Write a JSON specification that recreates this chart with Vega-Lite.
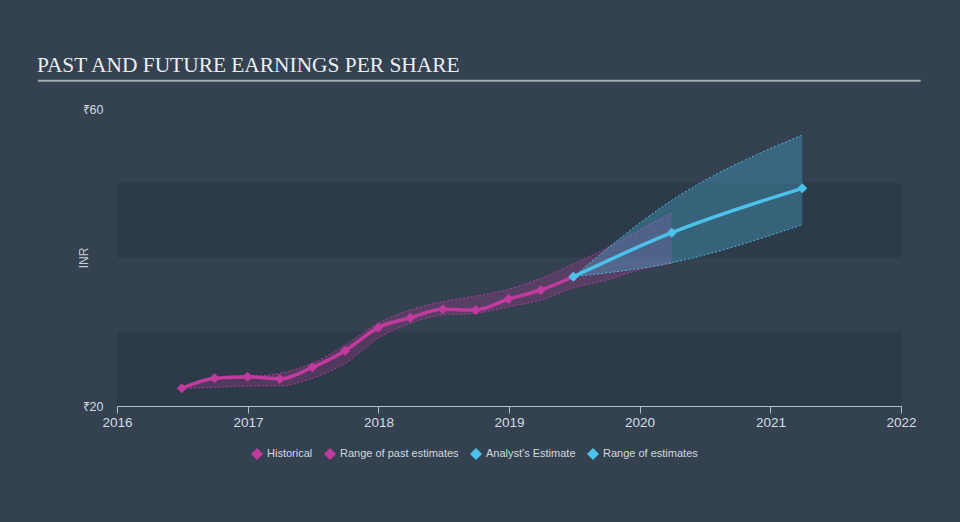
{
  "$schema": "https://vega.github.io/schema/vega-lite/v6.json",
  "width": 784,
  "height": 297,
  "autosize": {"type": "none"},
  "padding": {"left": 117, "top": 109, "right": 59, "bottom": 116},
  "background": "#334151",
  "title": {
    "text": "PAST AND FUTURE EARNINGS PER SHARE",
    "anchor": "start",
    "font": "Liberation Serif",
    "fontSize": 21.4,
    "fontWeight": "normal",
    "color": "#eceef0",
    "offset": 3,
    "dx": 0
  },
  "config": {
    "view": {"stroke": null}
  },
  "datasets": {
    "bands": [{"lo": 20, "hi": 30}, {"lo": 40, "hi": 50}],
    "hist": [
      {"date": "2016-06-30", "eps": 22.38},
      {"date": "2016-09-30", "eps": 23.73},
      {"date": "2016-12-31", "eps": 23.95},
      {"date": "2017-03-31", "eps": 23.64},
      {"date": "2017-06-30", "eps": 25.21},
      {"date": "2017-09-30", "eps": 27.45},
      {"date": "2017-12-31", "eps": 30.55},
      {"date": "2018-03-31", "eps": 31.89},
      {"date": "2018-06-30", "eps": 33.02},
      {"date": "2018-09-30", "eps": 32.93},
      {"date": "2018-12-31", "eps": 34.41},
      {"date": "2019-03-31", "eps": 35.62},
      {"date": "2019-06-30", "eps": 37.41}
    ],
    "past": [
      {"date": "2016-06-30", "low": 22.38, "high": 22.38},
      {"date": "2016-09-30", "low": 22.52, "high": 23.73},
      {"date": "2016-12-31", "low": 22.69, "high": 23.95},
      {"date": "2017-03-31", "low": 22.7, "high": 24.4},
      {"date": "2017-06-30", "low": 23.73, "high": 25.75},
      {"date": "2017-09-30", "low": 25.75, "high": 28.22},
      {"date": "2017-12-31", "low": 29.12, "high": 31.14},
      {"date": "2018-03-31", "low": 31.14, "high": 32.93},
      {"date": "2018-06-30", "low": 32.26, "high": 34.05},
      {"date": "2018-09-30", "low": 32.48, "high": 34.82},
      {"date": "2018-12-31", "low": 33.37, "high": 35.72},
      {"date": "2019-03-31", "low": 34.28, "high": 37.2},
      {"date": "2019-06-30", "low": 35.9, "high": 39.12},
      {"date": "2019-09-30", "low": 36.97, "high": 41.24},
      {"date": "2019-12-31", "low": 38.32, "high": 43.7},
      {"date": "2020-03-31", "low": 39.22, "high": 46.0}
    ],
    "fc": [
      {"date": "2019-06-30", "eps": 37.41},
      {"date": "2020-03-31", "eps": 43.34},
      {"date": "2021-03-31", "eps": 49.32}
    ],
    "fcr": [
      {"date": "2019-06-30", "low": 37.41, "high": 37.41},
      {"date": "2020-03-31", "low": 39.3, "high": 47.7},
      {"date": "2021-03-31", "low": 44.4, "high": 56.5}
    ]
  },
  "layer": [
    {
      "data": {"name": "bands"},
      "mark": {"type": "rect", "color": "#2c3847", "opacity": 0.75},
      "encoding": {
        "y": {
          "field": "lo",
          "type": "quantitative",
          "scale": {"domain": [20, 60], "nice": false, "zero": false},
          "axis": {
            "title": "INR",
            "values": [20, 60],
            "labelExpr": "'₹' + datum.value",
            "grid": false,
            "domain": false,
            "ticks": false,
            "labelPadding": 14,
            "labelColor": "#d4d9de",
            "labelFontSize": 12.5,
            "titleColor": "#c8ced4",
            "titleFontSize": 12,
            "titleFontWeight": "normal",
            "titlePadding": -8
          }
        },
        "y2": {"field": "hi"}
      }
    },
    {
      "data": {"name": "past"},
      "mark": {"type": "area", "interpolate": "monotone", "fillOpacity": 0.25},
      "encoding": {
        "x": {"field": "date", "type": "temporal"},
        "y": {"field": "low", "type": "quantitative"},
        "y2": {"field": "high"},
        "color": {
          "datum": "Range of past estimates",
          "type": "nominal",
          "scale": {
            "domain": ["Historical", "Range of past estimates", "Analyst's Estimate", "Range of estimates"],
            "range": ["#c13a9d", "#c13a9d", "#4cc1ea", "#4cc1ea"]
          },
          "legend": {
            "title": null,
            "orient": "none",
            "direction": "horizontal",
            "legendX": 134,
            "legendY": 339,
            "columnPadding": 9,
            "labelColor": "#d4d9de",
            "labelFontSize": 11,
            "labelOffset": 4,
            "symbolType": "diamond",
            "symbolSize": 100,
            "symbolOpacity": 1
          }
        }
      }
    },
    {
      "data": {"name": "past"},
      "mark": {"type": "line", "interpolate": "monotone", "color": "#c13a9d", "strokeWidth": 1, "strokeDash": [2, 2], "opacity": 0.9},
      "encoding": {
        "x": {"field": "date", "type": "temporal"},
        "y": {"field": "low", "type": "quantitative"}
      }
    },
    {
      "data": {"name": "past"},
      "mark": {"type": "line", "interpolate": "monotone", "color": "#c13a9d", "strokeWidth": 1, "strokeDash": [2, 2], "opacity": 0.9},
      "encoding": {
        "x": {"field": "date", "type": "temporal"},
        "y": {"field": "high", "type": "quantitative"}
      }
    },
    {
      "data": {"name": "fcr"},
      "mark": {"type": "area", "interpolate": "monotone", "fillOpacity": 0.3},
      "encoding": {
        "x": {"field": "date", "type": "temporal"},
        "y": {"field": "low", "type": "quantitative"},
        "y2": {"field": "high"},
        "color": {"datum": "Range of estimates", "type": "nominal"}
      }
    },
    {
      "data": {"name": "fcr"},
      "mark": {"type": "line", "interpolate": "monotone", "color": "#4cc1ea", "strokeWidth": 1, "strokeDash": [2, 2], "opacity": 0.9},
      "encoding": {
        "x": {"field": "date", "type": "temporal"},
        "y": {"field": "low", "type": "quantitative"}
      }
    },
    {
      "data": {"name": "fcr"},
      "mark": {"type": "line", "interpolate": "monotone", "color": "#4cc1ea", "strokeWidth": 1, "strokeDash": [2, 2], "opacity": 0.9},
      "encoding": {
        "x": {"field": "date", "type": "temporal"},
        "y": {"field": "high", "type": "quantitative"}
      }
    },
    {
      "data": {"name": "hist"},
      "mark": {"type": "line", "interpolate": "monotone", "strokeWidth": 3.5, "point": {"shape": "diamond", "size": 100, "filled": true}},
      "encoding": {
        "x": {
          "field": "date",
          "type": "temporal",
          "scale": {
            "domain": [
              {"year": 2016, "month": 1, "date": 1},
              {"year": 2022, "month": 1, "date": 1}
            ]
          },
          "axis": {
            "title": null,
            "format": "%Y",
            "tickCount": 6,
            "grid": false,
            "domainColor": "#b4c0cc",
            "tickColor": "#b4c0cc",
            "tickSize": 7,
            "labelColor": "#d8dde2",
            "labelFontSize": 13.5,
            "labelPadding": 2,
            "labelFlush": false
          }
        },
        "y": {"field": "eps", "type": "quantitative"},
        "color": {"datum": "Historical", "type": "nominal"}
      }
    },
    {
      "data": {"name": "fc"},
      "mark": {"type": "line", "interpolate": "monotone", "strokeWidth": 3.5, "point": {"shape": "diamond", "size": 100, "filled": true}},
      "encoding": {
        "x": {"field": "date", "type": "temporal"},
        "y": {"field": "eps", "type": "quantitative"},
        "color": {"datum": "Analyst's Estimate", "type": "nominal"}
      }
    },
    {
      "data": {"values": [{}]},
      "mark": {"type": "rule", "color": "#a6adb5", "strokeWidth": 2},
      "encoding": {
        "x": {"datum": {"year": 2015, "month": 5, "date": 25}, "type": "temporal"},
        "x2": {"datum": {"year": 2022, "month": 2, "date": 25}},
        "y": {"datum": 63.8, "type": "quantitative"}
      }
    }
  ]
}
